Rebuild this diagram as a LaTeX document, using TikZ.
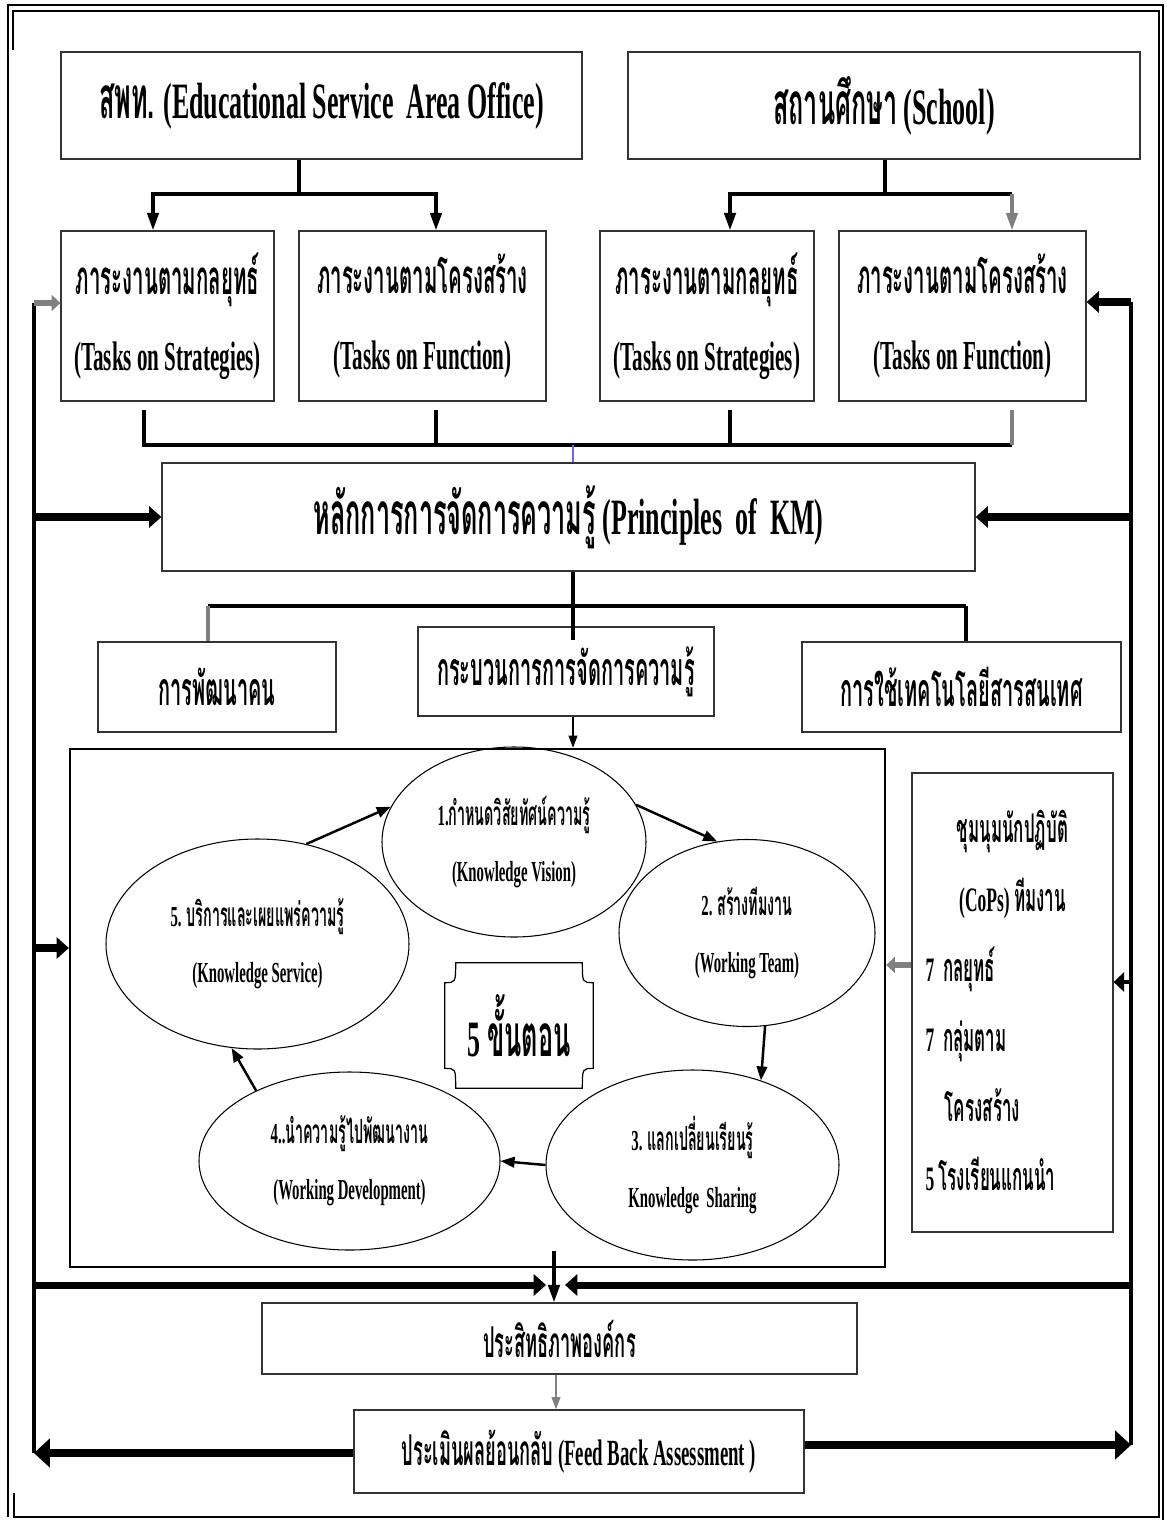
\documentclass[tikz,border=0pt]{standalone}
\usepackage{fontspec}
\setmainfont{Liberation Serif}[FakeStretch=0.51]
\newfontfamily\thaifont[Script=Thai, Scale=1.15, FakeStretch=0.43]{Loma}
\newcommand{\thtxt}[1]{{\thaifont #1}}
\usetikzlibrary{positioning, arrows.meta, calc, shapes.geometric}

\begin{document}
\begin{tikzpicture}[
  x=0.02cm, y=-0.02cm,
  every node/.style={font=\bfseries},
  sz/.style 2 args = {minimum width=#1*0.02cm, minimum height=#2*0.02cm},
  box/.style   = {draw=black!80, line width=0.7pt, align=center, inner sep=2pt},
  head/.style  = {box, font=\fontsize{29}{33}\selectfont\bfseries},
  task/.style  = {box, font=\fontsize{23.5}{43}\selectfont\bfseries},
  part/.style  = {box, font=\fontsize{23}{27}\selectfont\bfseries},
  low/.style   = {box, font=\fontsize{21}{25}\selectfont\bfseries},
  oval/.style  = {ellipse, draw, line width=0.6pt, inner sep=0pt, align=center,
                  font=\fontsize{16.5}{32}\selectfont\bfseries},
  cops/.style  = {box, font=\fontsize{19.5}{39.7}\selectfont\bfseries},
  bar/.style   = {line width=2pt},
  tree/.style  = {bar, -{Triangle[length=10pt, width=6.5pt]}},
  flow/.style  = {line width=1.4pt, -{Triangle[length=8pt, width=6pt]}},
  spine/.style = {line width=2pt},
  fat/.style   = {line width=4pt, -{Triangle[length=7pt, width=12pt]}},
  fatter/.style= {line width=5pt, -{Triangle[length=9pt, width=16pt]}},
  hint/.style  = {gray, line width=3.5pt, -{Triangle[length=5pt, width=9pt]}},
]
  \useasboundingbox (0,0) rectangle (1166,1520);
  \draw[line width=0.9pt] (8,1517) -- (8,5) -- (1163,5) -- (1163,1520);
  \draw[line width=1.3pt] (13,50) -- (13,11) -- (1159,11) -- (1159,1517) -- (14,1517) -- (14,1493);

  \node[head, sz={521}{107}] (esa)    at (321.5,105.5) {\thtxt{สพท.} (Educational Service\ \ Area Office)};
  \node[head, sz={512}{107}] (school) at (884,105.5)   {\thtxt{สถานศึกษา} (School)};
  \node[task, sz={213}{170}] (esaS)   at (167.5,316) {\thtxt{ภาระงานตามกลยุทธ์}\\(Tasks on Strategies)};
  \node[task, sz={247}{170}] (esaF)   at (422.5,316) {\thtxt{ภาระงานตามโครงสร้าง}\\(Tasks on Function)};
  \node[task, sz={214}{170}] (schS)   at (707,316)   {\thtxt{ภาระงานตามกลยุทธ์}\\(Tasks on Strategies)};
  \node[task, sz={247}{170}] (schF)   at (962.5,316) {\thtxt{ภาระงานตามโครงสร้าง}\\(Tasks on Function)};
  \node[head, sz={813}{108}] (km)     at (568.5,517) {\thtxt{หลักการการจัดการความรู้} (Principles\ \ of\ \ KM)};
  \node[part, sz={238}{90}]  (people) at (217,687)   {\thtxt{การพัฒนาคน}};
  \node[part, sz={296}{89}]  (kmproc) at (566,671.5) {\thtxt{กระบวนการการจัดการความรู้}};
  \node[part, sz={319}{90}]  (ict)    at (961.5,687) {\thtxt{การใช้เทคโนโลยีสารสนเทศ}};
  \node[draw, line width=1.3pt, sz={815}{518}] (cycle) at (477.5,1008) {};

  \node[oval, sz={264}{190}] (s1) at (514,842)    {1.\thtxt{กำหนดวิสัยทัศน์ความรู้}\\(Knowledge Vision)};
  \node[oval, sz={256}{187}] (s2) at (747,933)    {2. \thtxt{สร้างทีมงาน}\\(Working Team)};
  \node[oval, sz={293}{190}] (s3) at (692.5,1165) {3. \thtxt{แลกเปลี่ยนเรียนรู้}\\Knowledge\ \ Sharing};
  \node[oval, sz={301}{178}] (s4) at (349.5,1161) {4..\thtxt{นำความรู้ไปพัฒนางาน}\\(Working Development)};
  \node[oval, sz={303}{210}] (s5) at (257.5,944)  {5. \thtxt{บริการและเผยแพร่ความรู้}\\(Knowledge Service)};
  \node[font=\fontsize{29}{32}\selectfont\bfseries, sz={148}{125}] (steps) at (519,1025.5) {5 \thtxt{ขั้นตอน}};
  \draw[line width=0.7pt]
    ($(steps.north west)+(11,0)$) -- ($(steps.north east)+(-11,0)$)
    .. controls ($(steps.north east)+(-11,20)$) .. ($(steps.north east)+(0,20)$)
    -- ($(steps.south east)+(0,-20)$)
    .. controls ($(steps.south east)+(-11,-20)$) .. ($(steps.south east)+(-11,0)$)
    -- ($(steps.south west)+(11,0)$)
    .. controls ($(steps.south west)+(11,-20)$) .. ($(steps.south west)+(0,-20)$)
    -- ($(steps.north west)+(0,20)$)
    .. controls ($(steps.north west)+(11,20)$) .. cycle;

  \node[cops, sz={201}{459}] (cop) at (1012.5,1002.5) {%
    \begin{tabular}{@{}p{99pt}@{}}
      \multicolumn{1}{@{}c@{}}{\thtxt{ชุมนุมนักปฏิบัติ}}\\
      \multicolumn{1}{@{}c@{}}{(CoPs) \thtxt{ทีมงาน}}\\
      7\ \ \thtxt{กลยุทธ์}\\
      7\ \ \thtxt{กลุ่มตาม}\\
      \hspace*{11pt}\thtxt{โครงสร้าง}\\
      5 \thtxt{โรงเรียนแกนนำ}
    \end{tabular}};
  \node[low, sz={595}{71}] (eff) at (559.5,1338.5) {\thtxt{ประสิทธิภาพองค์กร}};
  \node[low, sz={450}{83}] (fb)  at (579,1451.5)   {\thtxt{ประเมินผลย้อนกลับ} (Feed Back Assessment )};

  \draw[bar] (esa.south -| 299,0) -- (299,194) coordinate (esaJ);
  \draw[tree] (esaJ) -| (esaS.north -| 153,0);
  \draw[tree] (esaJ) -| (esaF.north -| 436,0);
  \draw[bar] (school.south -| 885,0) -- (885,194) coordinate (schJ);
  \draw[tree] (schJ) -| (schS.north -| 730,0);
  \draw[bar] (schJ) -- (1012,194) coordinate (schK);
  \draw[tree, gray] (schK) -- (schF.north -| schK);

  \coordinate (busL) at (144,445);
  \coordinate (busR) at (1012,445);
  \draw[bar, shorten <=5pt] (esaS.south -| busL) -- (busL) -- (busR);
  \draw[bar, shorten <=5pt] (esaF.south -| 436,0) -- (436,445);
  \draw[bar, shorten <=5pt] (schS.south -| 730,0) -- (730,445);
  \draw[bar, gray, shorten <=5pt] (schF.south -| busR) -- (busR);
  \draw[blue!60, line width=0.6pt] (573,445) -- (km.north -| 573,0);

  \draw[bar] (km.south -| 573,0) -- (573,640);
  \draw[bar] (208,606) coordinate (kmL) -- (966,606) coordinate (kmR);
  \draw[bar, gray] (kmL) -- (people.north -| kmL);
  \draw[bar] (kmR) -- (ict.north -| kmR);
  \draw[line width=1pt, -{Triangle[length=7pt, width=5pt]}] (kmproc.south -| 573,0) -- (cycle.north -| 573,0);

  \draw[flow] (s5.64)   -- (s1.164);
  \draw[flow] (s1.17)   -- (s2.108);
  \draw[flow] (s2.-79)  -- (s3.51);
  \draw[flow] (s3.west) -- (s4.east);
  \draw[flow] (s4.143)  -- (s5.-104);

  \coordinate (lTop) at (34,303);
  \coordinate (lBot) at (34,1453);
  \coordinate (rTop) at (1131,302);
  \coordinate (rBot) at (1131,1445);
  \draw[spine] (lTop) -- (lBot);
  \draw[spine] (rTop) -- (rBot);
  \draw[hint] (lTop) -- (lTop -| esaS.west);
  \draw[fat] (lTop |- km.west) -- (km.west);
  \draw[fat] (34,948) -- (cycle.west |- 0,948);
  \draw[fat] (34,1285) -- (546,1285);
  \draw[fat] (rTop) -- (rTop -| schF.east);
  \draw[fat] (rTop |- km.east) -- (km.east);
  \draw[line width=2.5pt, -{Triangle[length=6pt, width=11pt]}] (1131,982) -- (cop.east |- 0,982);
  \draw[hint] (cop.west |- 0,965) -- (cycle.east |- 0,965);
  \draw[fat] (1131,1285) -- (565,1285);
  \draw[tree] ($(cycle.south -| 554,0)+(0,-17)$) -- (eff.north -| 554,0);
  \draw[gray, line width=1pt, -{Triangle[length=7pt, width=5pt]}] (eff.south -| 556,0) -- (fb.north -| 556,0);
  \draw[fatter] (fb.west |- lBot) -- (lBot);
  \draw[fatter] (fb.east |- rBot) -- (rBot);
\end{tikzpicture}
\end{document}
